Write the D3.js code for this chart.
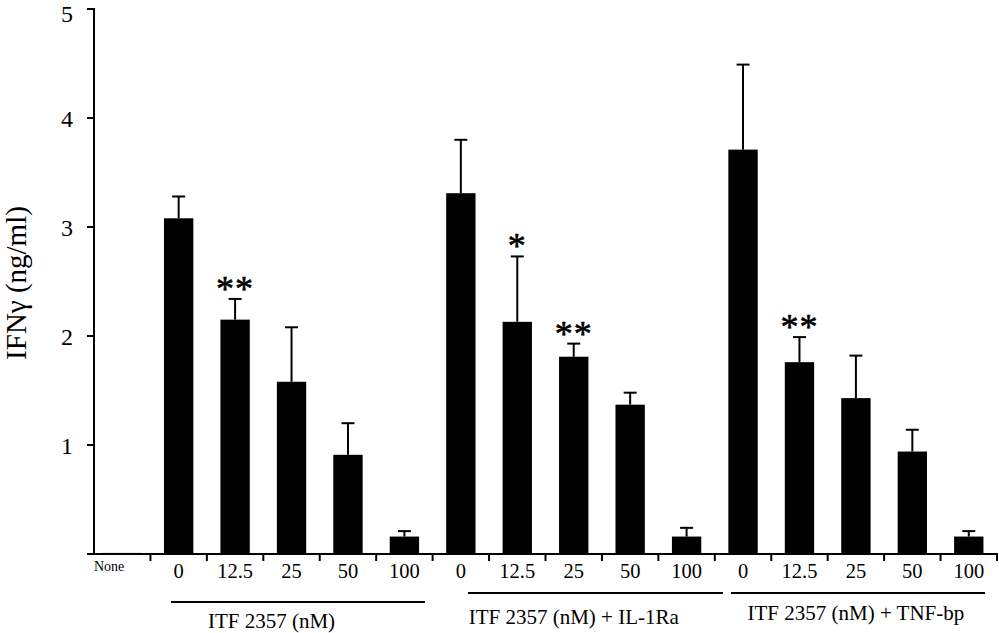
<!DOCTYPE html>
<html><head><meta charset="utf-8">
<script src="https://cdn.jsdelivr.net/npm/d3@7"></script>
<style>body{margin:0;background:#fff}svg{display:block}text{font-family:"Liberation Serif","Times New Roman",serif;fill:#000}</style>
</head><body>
<svg id="c" width="999" height="633"></svg>
<script>
const categories = ["None","0","12.5","25","50","100","0","12.5","25","50","100","0","12.5","25","50","100"];
const values = [0.01, 3.08, 2.15, 1.58, 0.91, 0.16, 3.31, 2.13, 1.81, 1.37, 0.16, 3.71, 1.76, 1.43, 0.94, 0.16];
const errors = [0, 0.20, 0.19, 0.50, 0.29, 0.05, 0.49, 0.60, 0.12, 0.11, 0.08, 0.78, 0.23, 0.39, 0.20, 0.05];
const stars = ["", "", "**", "", "", "", "", "*", "**", "", "", "", "**", "", "", ""];
const groupLabels = ["ITF 2357 (nM)", "ITF 2357 (nM) + IL-1Ra", "ITF 2357 (nM) + TNF-bp"];
const groupRanges = [[1,5],[6,10],[11,15]];
const yTicks = [1, 2, 3, 4, 5];

const svg = d3.select("#c");
const idx = d3.range(categories.length);
const x = d3.scaleBand().domain(idx).range([94, 997]).padding(0);
const y = d3.scaleLinear().domain([0, 5]).range([554, 9]);
const bw = x.bandwidth() * 0.52;
const cx = i => x(i) + x.bandwidth() / 2;

// bars
svg.append("g").selectAll("rect").data(idx).join("rect")
  .attr("x", i => cx(i) - (i === 0 ? 20 : bw / 2))
  .attr("width", i => i === 0 ? 40 : bw)
  .attr("y", i => y(values[i]))
  .attr("height", i => y(0) - y(values[i]))
  .attr("fill", "#000");

// error bars
const eb = svg.append("g").attr("stroke", "#000").attr("stroke-width", 2);
idx.filter(i => errors[i] > 0).forEach(i => {
  eb.append("line").attr("x1", cx(i)).attr("x2", cx(i)).attr("y1", y(values[i])).attr("y2", y(values[i] + errors[i]));
  eb.append("line").attr("x1", cx(i) - 6.5).attr("x2", cx(i) + 6.5).attr("y1", y(values[i] + errors[i])).attr("y2", y(values[i] + errors[i]));
});

// stars
svg.append("g").selectAll("text").data(idx.filter(i => stars[i])).join("text")
  .attr("x", i => cx(i)).attr("y", i => y(values[i] + errors[i]) + 2)
  .attr("text-anchor", "middle").attr("font-size", 36).attr("letter-spacing", 1)
  .attr("stroke", "#000").attr("stroke-width", 0.6).text(i => stars[i]);

// y axis
const ya = svg.append("g").attr("stroke", "#000").attr("stroke-width", 2);
ya.append("line").attr("x1", 94).attr("x2", 94).attr("y1", y(5) - 1).attr("y2", y(0));
yTicks.forEach(t => ya.append("line").attr("x1", 87).attr("x2", 94).attr("y1", y(t)).attr("y2", y(t)));
svg.append("g").selectAll("text").data(yTicks).join("text")
  .attr("x", 73).attr("y", d => Math.max(y(d) + 9, 22)).attr("text-anchor", "end").attr("font-size", 24)
  .text(d => d);

// x axis
const xa = svg.append("g").attr("stroke", "#000").attr("stroke-width", 2);
xa.append("line").attr("x1", 87).attr("x2", 998).attr("y1", y(0)).attr("y2", y(0));
d3.range(1, categories.length + 1).forEach(k => {
  const xx = k < categories.length ? x(k) : 997;
  xa.append("line").attr("x1", xx).attr("x2", xx).attr("y1", y(0)).attr("y2", y(0) + 7);
});
svg.append("g").selectAll("text").data(idx).join("text")
  .attr("x", i => i === 0 ? 94 : cx(i))
  .attr("y", i => i === 0 ? 571 : 578)
  .attr("text-anchor", i => i === 0 ? "start" : "middle")
  .attr("font-size", i => i === 0 ? 14 : 20.5)
  .text(i => categories[i]);

// groups
const lineY = [602, 593, 593];
const labelY = [628, 624, 620];
const lineX = [[171, 425], [468, 723], [731, 985]];
groupLabels.forEach((g, k) => {
  svg.append("line").attr("x1", lineX[k][0]).attr("x2", lineX[k][1]).attr("y1", lineY[k]).attr("y2", lineY[k])
    .attr("stroke", "#000").attr("stroke-width", 2);
  const [a, b] = groupRanges[k];
  svg.append("text").attr("x", (cx(a) + cx(b)) / 2 + (k === 0 ? -20 : 0)).attr("y", labelY[k])
    .attr("text-anchor", "middle").attr("font-size", 21).text(g);
});

// y label
svg.append("text").attr("transform", "translate(26,283) rotate(-90)")
  .attr("text-anchor", "middle").attr("font-size", 29).text("IFNγ (ng/ml)");
</script>
</body></html>
